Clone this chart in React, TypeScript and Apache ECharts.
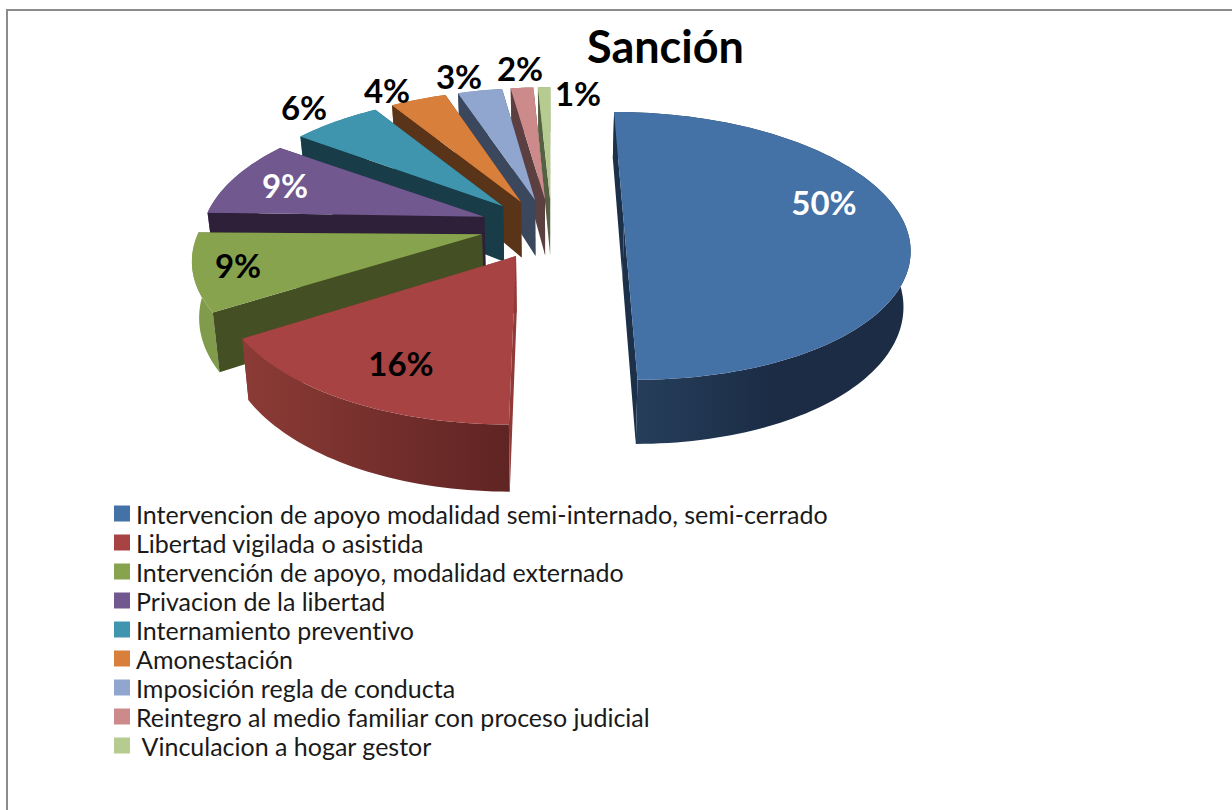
import React, { useEffect, useRef } from "react";
import * as echarts from "echarts";

const TITLE = "Sanción";
const CATEGORIES = [
  "Intervencion de apoyo modalidad semi-internado, semi-cerrado",
  "Libertad vigilada o asistida",
  "Intervención de apoyo, modalidad externado",
  "Privacion de la libertad",
  "Internamiento preventivo",
  "Amonestación",
  "Imposición regla de conducta",
  "Reintegro al medio familiar con proceso judicial",
  " Vinculacion a hogar gestor",
];
// Slice shares; the labels show them rounded.
const VALUES = [50, 16, 9.2, 9.4, 6.1, 3.85, 3.05, 1.55, 0.85];

const TOP_COLORS = ["#4471a6", "#a74342", "#87a34d", "#71588f", "#3f95ae", "#d87f3b", "#90a6cf", "#cc8b8a", "#b5cb8f"];
const WALL_COLORS = ["#1c3149", "#8f3a38", "#445023", "#2e2038", "#183c48", "#5a3418", "#3a475c", "#5c3f40", "#566043"];
const SIDE_LEFT = ["#27415f", "#8c3b36", "#7f9b4b", "#5f4a78", "#327a8f", "#b56a30", "#7a8db0", "#ad7675", "#9bb07a"];
const SIDE_RIGHT = ["#1b2c44", "#5f2423", "#7f9b4b", "#5f4a78", "#327a8f", "#b56a30", "#7a8db0", "#ad7675", "#9bb07a"];
const SIDE_STOP = [0.55, 1, 1, 1, 1, 1, 1, 1, 1];
const LABEL_COLORS = ["#fff", "#000", "#000", "#fff", "#000", "#000", "#000", "#000", "#000"];
const LABEL_ANCHORS = [[824, 202], [401, 363], [238, 265], [285, 185], [304, 107], [387, 90], [459, 76], [520, 68], [578, 93]];

// projection of the pie plane
const CX = 552, CY = 224.6, RX = 281, RY = 130.5, PERSP = 6.3, DEPTH = 54, EX = 0.256, EY = 0.265;
const BOTTOM_SHRINK = 0.02, APEX_DROP = 8, APEX_DEPTH = 4;
const project = (X: number, Y: number, z: number) => {
  const s = PERSP / (PERSP - Y);
  return [CX + X * RX * s * (1 - BOTTOM_SHRINK * z), CY + Y * RY * s + z * DEPTH * s];
};

const total = VALUES.reduce((a, b) => a + b, 0);

function makeRender(index: number) {
  return (_params: any, api: any) => {
    const start = (VALUES.slice(0, index).reduce((a, b) => a + b, 0) / total) * Math.PI * 2;
    const sweep = (Number(api.value(0)) / total) * Math.PI * 2;
    const end = start + sweep;
    const mid = (start + end) / 2;
    const ox = EX * Math.sin(mid);
    const oy = -EY * Math.cos(mid);
    const steps = Math.max(6, Math.ceil(sweep * 40));
    const rim = (z: number) => {
      const out: number[][] = [];
      for (let k = 0; k <= steps; k++) {
        const t = start + (sweep * k) / steps;
        out.push(project(ox + Math.sin(t), oy - Math.cos(t), z));
      }
      return out;
    };
    const back = Math.max(0, Math.cos(mid));
    const a0 = project(ox, oy, 0);
    const a1 = project(ox, oy, 1);
    const apexT = [a0[0], a0[1] + APEX_DROP * back];
    const apexB = [a1[0], a1[1] + (APEX_DROP + APEX_DEPTH) * back];
    const topRim = rim(0);
    const botRim = rim(1);
    const wall = WALL_COLORS[index];
    const children: any[] = [
      { type: "polygon", shape: { points: [apexT, topRim[topRim.length - 1], botRim[botRim.length - 1], apexB] }, style: { fill: wall } },
      {
        type: "polygon",
        shape: { points: [...topRim, ...botRim.slice().reverse()] },
        style: {
          fill: new echarts.graphic.LinearGradient(0, 0, 1, 0, [
            { offset: 0, color: SIDE_LEFT[index] },
            { offset: SIDE_STOP[index], color: SIDE_RIGHT[index] },
            { offset: 1, color: SIDE_RIGHT[index] },
          ]),
        },
      },
      { type: "polygon", shape: { points: [apexT, topRim[0], botRim[0], apexB] }, style: { fill: wall } },
      { type: "polygon", shape: { points: [apexT, ...topRim] }, style: { fill: TOP_COLORS[index] } },
      {
        type: "text",
        x: LABEL_ANCHORS[index][0],
        y: LABEL_ANCHORS[index][1],
        style: {
          text: `${Math.round(Number(api.value(0)))}%`,
          fill: LABEL_COLORS[index],
          font: 'bold 33px Lato, sans-serif',
          align: "center",
          verticalAlign: "middle",
        },
      },
    ];
    return { type: "group", children };
  };
}

export default function App() {
  const ref = useRef<HTMLDivElement>(null);
  useEffect(() => {
    document.body.style.margin = "0";
    const chart = echarts.init(ref.current!, null, { renderer: "svg" });
    chart.setOption({
      animation: false,
      backgroundColor: "#fff",
      title: {
        text: TITLE,
        left: 582,
        top: 18,
        textStyle: { fontFamily: "Lato, sans-serif", fontWeight: "bold", fontSize: 45, color: "#000" },
      },
      legend: {
        data: CATEGORIES,
        orient: "vertical",
        left: 114,
        top: 501,
        padding: 0,
        icon: "rect",
        itemWidth: 16,
        itemHeight: 16,
        itemGap: 4,
        selectedMode: false,
        textStyle: { fontFamily: "Lato, sans-serif", fontSize: 25, color: "#1a1a1a", lineHeight: 24, padding: [0, 0, 0, 1] },
      },
      graphic: [
        { type: "line", shape: { x1: 7, y1: 10, x2: 7, y2: 810 }, style: { stroke: "#8c8c8c", lineWidth: 2 } },
        { type: "line", shape: { x1: 6, y1: 10, x2: 1232, y2: 10 }, style: { stroke: "#8c8c8c", lineWidth: 2 } },
      ],
      series: CATEGORIES.map((name, i) => ({
        type: "custom",
        name,
        coordinateSystem: "none",
        z: 20 - i,
        itemStyle: { color: TOP_COLORS[i] },
        data: [[VALUES[i]]],
        renderItem: makeRender(i),
      })),
    });
    return () => chart.dispose();
  }, []);
  return <div ref={ref} style={{ width: 1232, height: 810, fontVariantLigatures: "none" }} />;
}
